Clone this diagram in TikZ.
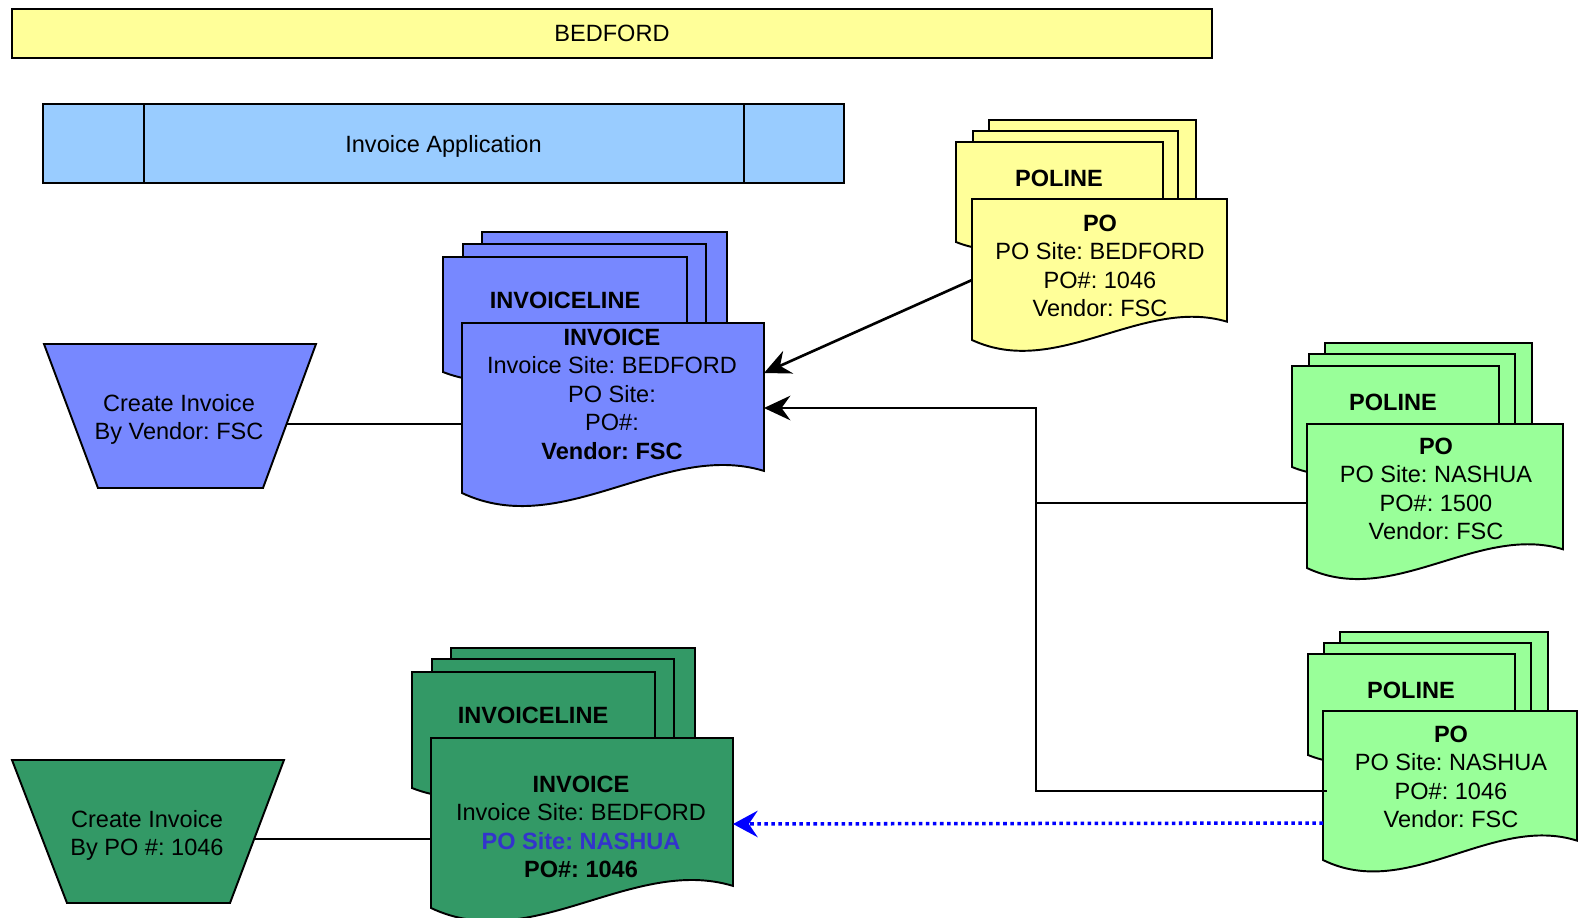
\documentclass[tikz,border=0pt]{standalone}
\usepackage{fontspec}
\setmainfont{Liberation Sans}
\usetikzlibrary{arrows.meta,positioning,shapes.geometric,calc}
\frenchspacing
\definecolor{siteyellow}{HTML}{FFFF99}
\definecolor{appblue}{HTML}{99CCFF}
\definecolor{invblue}{HTML}{7788FF}
\definecolor{pogreen}{HTML}{99FF99}
\definecolor{invgreen}{HTML}{339966}
\definecolor{sitetext}{HTML}{3333CC}
% one sheet with a wavy bottom: fill, left, top, right, left bottom
\newcommand{\docsheet}[5]{%
  \pgfmathsetmacro{\dh}{#5-#3}%
  \pgfmathsetmacro{\yr}{#5-0.13*\dh}%
  \pgfmathsetmacro{\cxa}{#2+(#4-#2)/3}%
  \pgfmathsetmacro{\cxb}{#2+2*(#4-#2)/3}%
  \pgfmathsetmacro{\cya}{#5+0.28*\dh}%
  \pgfmathsetmacro{\cyb}{\yr-0.18*\dh}%
  \filldraw[sheet,fill=#1] (#2,#3) -- (#4,#3) -- (#4,\yr)
    .. controls (\cxb,\cyb) and (\cxa,\cya) .. (#2,#5) -- cycle;
}
\tikzset{
  sheet/.style={draw,line width=1.1pt},
  txt/.style={align=center,inner sep=0pt,font=\fontsize{13.4}{16.2}\selectfont},
  lbl/.style={txt,font=\fontsize{13.4}{16.2}\selectfont\bfseries},
  bar/.style={draw,line width=1.3pt,inner sep=0pt,text depth=0pt,
    font=\fontsize{13.4}{16.2}\selectfont},
  stepshape/.style={draw,line width=1.1pt},
  conn/.style={line width=1.2pt},
  nyil/.style={line width=1.5pt,-{Stealth[length=15pt,width=14pt,inset=5pt]}},
  dotnyil/.style={blue,line width=2pt,dash pattern=on 2pt off 2pt,
    -{Stealth[length=14pt,width=15pt,inset=5pt]}},
}
\begin{document}
\begin{tikzpicture}[x=0.02cm,y=-0.02cm]
  \useasboundingbox (0,0) rectangle (1580,917);
  \node[bar,fill=siteyellow,minimum width=24cm,minimum height=0.98cm] (bedford) at (612,33.5) {BEDFORD};
  \node[bar,fill=appblue,minimum width=16.02cm,minimum height=1.58cm] (app) at (443.5,143.5) {Invoice Application};
  \draw[line width=1.3pt] (144,104) -- (144,183) (744,104) -- (744,183);
  % PO at Bedford
  \docsheet{siteyellow}{989}{120}{1196}{220}
  \docsheet{siteyellow}{973}{131}{1178}{231}
  \docsheet{siteyellow}{956}{142}{1163}{242}
  \node[lbl] (polineY) at (1059,178) {POLINE};
  \docsheet{siteyellow}{972}{199}{1227}{340}
  \node[txt] (poY) at (1100,266) {\textbf{PO}\\PO Site: BEDFORD\\PO\#: 1046\\Vendor: FSC};
  % PO 1500 at Nashua
  \docsheet{pogreen}{1325}{343}{1532}{444}
  \docsheet{pogreen}{1309}{354}{1515}{455}
  \docsheet{pogreen}{1292}{366}{1499}{467}
  \node[lbl] (polineN1) at (1393,402) {POLINE};
  \docsheet{pogreen}{1307}{424}{1563}{568}
  \node[txt] (poN1) at (1436,489) {\textbf{PO}\\PO Site: NASHUA\\PO\#: 1500\\Vendor: FSC};
  % PO 1046 at Nashua
  \docsheet{pogreen}{1340}{632}{1548}{733}
  \docsheet{pogreen}{1324}{643}{1531}{744}
  \docsheet{pogreen}{1308}{654}{1515}{755}
  \node[lbl] (polineN2) at (1411,690) {POLINE};
  \docsheet{pogreen}{1323}{711}{1577}{860}
  \node[txt] (poN2) at (1451,777) {\textbf{PO}\\PO Site: NASHUA\\PO\#: 1046\\Vendor: FSC};
  % invoice by vendor
  \docsheet{invblue}{482}{232}{727}{347}
  \docsheet{invblue}{463}{244}{706}{359}
  \docsheet{invblue}{443}{257}{687}{372}
  \node[lbl] (invlineB) at (565,300) {INVOICELINE};
  \docsheet{invblue}{462}{323}{764}{493}
  \node[txt] (invB) at (612,394) {\textbf{INVOICE}\\Invoice Site: BEDFORD\\PO Site:\\PO\#:\\\textbf{Vendor: FSC}};
  % invoice by PO
  \docsheet{invgreen}{451}{648}{695}{764}
  \docsheet{invgreen}{432}{659}{674}{776}
  \docsheet{invgreen}{412}{672}{655}{788}
  \node[lbl] (invlineG) at (533,715) {INVOICELINE};
  \docsheet{invgreen}{431}{738}{733}{908}
  \node[txt] (invG) at (581,827) {\textbf{INVOICE}\\Invoice Site: BEDFORD\\\textcolor{sitetext}{\textbf{PO Site: NASHUA}}\\\textbf{PO\#: 1046}};
  % create steps
  \filldraw[stepshape,fill=invblue] (44,344) -- (316,344) -- (263,488) -- (98,488) -- cycle;
  \node[txt] (trapB) at (179,419.5) {Create Invoice\\By Vendor: FSC};
  \filldraw[stepshape,fill=invgreen] (12,760) -- (284,760) -- (230,903) -- (67,903) -- cycle;
  \node[txt] (trapG) at (147,835.5) {Create Invoice\\By PO \#: 1046};
  % connectors
  \coordinate (trapB-e) at (286,424);
  \coordinate (trapG-e) at (254,839);
  \coordinate (invB-w) at (462,424);
  \coordinate (invG-w) at (431,839);
  \coordinate (invB-e1) at (764,373);
  \coordinate (invB-e2) at (764,408);
  \coordinate (invG-e) at (733,824);
  \coordinate (poY-w) at (972,280);
  \coordinate (poN1-w) at (1307,503);
  \coordinate (poN2-w) at (1327,791);
  \coordinate (poN2-d) at (1323,823);
  \coordinate (trunk) at (1036,503);
  \draw[conn] (trapB-e) -- (invB-w);
  \draw[conn] (trapG-e) -- (invG-w);
  \draw[nyil] (poY-w) -- (invB-e1);
  \draw[nyil] (poN1-w) -- (trunk) |- (invB-e2);
  \draw[conn] (poN2-w) -| (trunk);
  \draw[dotnyil] (poN2-d) -- (invG-e);
\end{tikzpicture}
\end{document}
